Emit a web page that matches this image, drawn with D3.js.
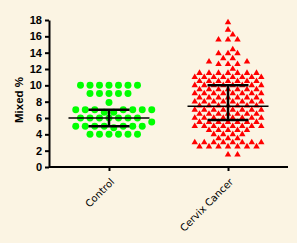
<!DOCTYPE html>
<html>
<head>
<meta charset="utf-8">
<script src="https://cdn.jsdelivr.net/npm/d3@7"></script>
<style>
  body { margin: 0; background: #fbf4e3; }
  svg { display: block; }
  .axis path, .axis line { stroke: #000; stroke-width: 2; }
  .axis.y text { font-family: "Liberation Sans", Arial, sans-serif; font-weight: bold; font-size: 11px; fill: #000; }
  .axis.x text { font-family: "DejaVu Sans", Verdana, sans-serif; font-size: 10px; fill: #000; }
</style>
</head>
<body>
<div id="chart"></div>
<script>
// categories and tick values
var groups = ["Control", "Cervix Cancer"];
var yTicks = [0, 2, 4, 6, 8, 10, 12, 14, 16, 18];

// raw values
var controlValues = [
  4, 4, 4, 4, 4, 4,
  4.8,
  5, 5, 5, 5, 5, 5, 5,
  5.5,
  6, 6, 6, 6, 6, 6, 6,
  6.7, 6.7,
  7, 7, 7, 7, 7, 7, 7,
  7.9,
  9, 9, 9, 9, 9,
  10, 10, 10, 10, 10, 10, 10
];
var cervixValues = [
  1.5, 1.5,
  2.5, 2.5, 2.5, 2.5, 2.5, 2.5, 2.5,
  3, 3, 3, 3, 3, 3, 3, 3,
  3.5, 3.5, 3.5,
  4, 4, 4, 4,
  4.5, 4.5, 4.5, 4.5, 4.5,
  5, 5, 5, 5, 5, 5, 5, 5,
  5.5, 5.5, 5.5, 5.5, 5.5, 5.5, 5.5,
  6, 6, 6, 6, 6, 6, 6, 6,
  6.5, 6.5, 6.5, 6.5, 6.5, 6.5, 6.5,
  7, 7, 7, 7, 7, 7, 7, 7,
  7.5, 7.5, 7.5, 7.5, 7.5, 7.5, 7.5,
  8, 8, 8, 8, 8, 8, 8, 8,
  8.5, 8.5, 8.5, 8.5, 8.5, 8.5, 8.5,
  9, 9, 9, 9, 9, 9, 9, 9,
  9.5, 9.5, 9.5, 9.5, 9.5, 9.5, 9.5,
  10, 10, 10, 10, 10, 10, 10, 10,
  10.5, 10.5, 10.5, 10.5, 10.5, 10.5, 10.5,
  11, 11, 11, 11, 11, 11, 11, 11,
  11.5, 11.5, 11.5, 11.5, 11.5, 11.5, 11.5,
  12,
  12.6, 12.6, 12.6,
  12.9, 12.9,
  13.3, 13.3,
  13.9, 13.9, 13.9,
  14.4,
  15.6, 15.6, 15.6,
  16.2,
  16.8,
  17.7
];

// centre line and error bars (median, lower, upper) as drawn
var centers = [6, 7.45];
var lowers = [5, 5.75];
var uppers = [7, 10.0];

var width = 297, height = 243;
var margin = { top: 20, right: 9, bottom: 76, left: 49 };

var svg = d3.select("#chart").append("svg")
  .attr("width", width)
  .attr("height", height);

var x = d3.scalePoint()
  .domain(groups)
  .range([margin.left, width - margin.right])
  .padding(0.504);

var y = d3.scaleLinear()
  .domain([0, 18])
  .range([height - margin.bottom, margin.top]);

// simple swarm: place each point at the nearest free slot around the centre
function swarm(values, step, minDist) {
  var placed = [];
  values.slice().sort(d3.ascending).forEach(function (v) {
    var py = y(v);
    for (var k = 0; k < 60; k++) {
      var off = (k === 0 ? 0 : Math.ceil(k / 2) * (k % 2 ? 1 : -1)) * step / 2;
      var hit = placed.some(function (p) {
        var dx = p.dx - off, dy = p.y - py;
        return Math.sqrt(dx * dx + dy * dy) < minDist;
      });
      if (!hit) { placed.push({ v: v, dx: off, y: py }); break; }
    }
  });
  return placed;
}

// axes
svg.append("g")
  .attr("class", "axis y")
  .attr("transform", "translate(" + margin.left + ",0)")
  .call(d3.axisLeft(y).tickValues(yTicks).tickSize(4).tickSizeOuter(0));

var xAxis = svg.append("g")
  .attr("class", "axis x")
  .attr("transform", "translate(0," + y(0) + ")")
  .call(d3.axisBottom(x).tickSize(4).tickSizeOuter(0));
xAxis.select(".domain").attr("d", "M" + margin.left + ",0H" + (width - margin.right));
xAxis.selectAll("text")
  .attr("x", 0).attr("y", 0).attr("dy", "0.35em")
  .style("text-anchor", "end")
  .attr("transform", "translate(3,13) rotate(-45)");

svg.append("text")
  .attr("transform", "translate(19,100) rotate(-90)")
  .attr("text-anchor", "middle")
  .attr("dy", "0.35em")
  .style("font-family", "Liberation Sans, Arial, sans-serif")
  .style("font-weight", "bold")
  .style("font-size", "11.5px")
  .text("Mixed %");

// points
var ctrl = swarm(controlValues, 9.5, 7.4);
svg.append("g").selectAll("path")
  .data(ctrl)
  .enter().append("path")
  .attr("d", d3.symbol().type(d3.symbolCircle).size(38))
  .attr("transform", function (d) { return "translate(" + (x(groups[0]) + d.dx) + "," + d.y + ")"; })
  .attr("fill", "#00ff00");

var cerv = swarm(cervixValues, 9.5, 6);
svg.append("g").selectAll("path")
  .data(cerv)
  .enter().append("path")
  .attr("d", d3.symbol().type(d3.symbolTriangle).size(18))
  .attr("transform", function (d) { return "translate(" + (x(groups[1]) + d.dx) + "," + d.y + ")"; })
  .attr("fill", "#ff0000");

// centre line and error bars
var stats = groups.map(function (g, i) {
  return { g: g, c: centers[i], lo: lowers[i], hi: uppers[i] };
});
var bars = svg.append("g").selectAll("g")
  .data(stats)
  .enter().append("g")
  .attr("transform", function (d) { return "translate(" + x(d.g) + ",0)"; });

bars.append("line")
  .attr("x1", -40.5).attr("x2", 40.5)
  .attr("y1", function (d) { return y(d.c); })
  .attr("y2", function (d) { return y(d.c); })
  .attr("stroke", "#000").attr("stroke-width", 1.5);

bars.append("line")
  .attr("x1", 0).attr("x2", 0)
  .attr("y1", function (d) { return y(d.lo); })
  .attr("y2", function (d) { return y(d.hi); })
  .attr("stroke", "#000").attr("stroke-width", 2.5);

bars.selectAll(".cap")
  .data(function (d) { return [d.lo, d.hi]; })
  .enter().append("line")
  .attr("class", "cap")
  .attr("x1", -20.5).attr("x2", 20.5)
  .attr("y1", function (d) { return y(d); })
  .attr("y2", function (d) { return y(d); })
  .attr("stroke", "#000").attr("stroke-width", 2.5);
</script>
</body>
</html>
